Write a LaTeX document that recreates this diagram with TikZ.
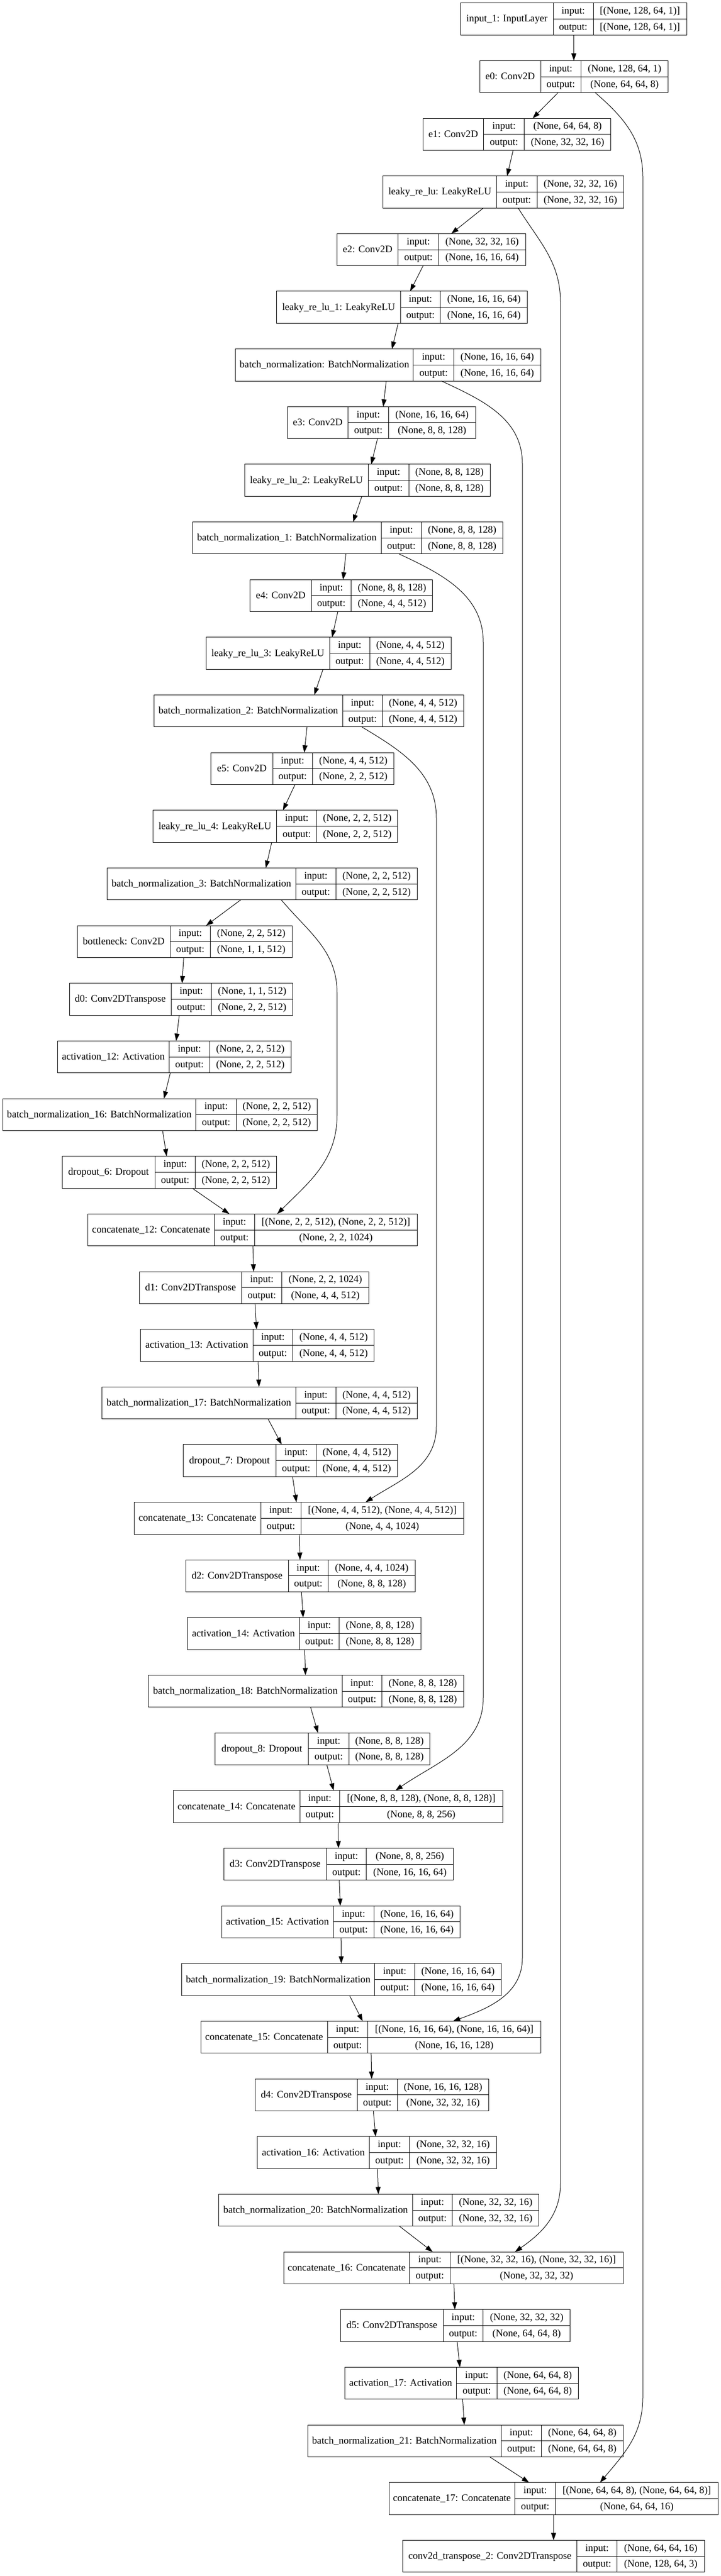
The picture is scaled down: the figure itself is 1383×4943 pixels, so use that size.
\documentclass[tikz,border=0pt]{standalone}
\usepackage{fontspec}
\setmainfont{Liberation Serif}
\usetikzlibrary{arrows.meta}
\tikzset{
  box/.style={draw=black, line width=1pt, inner sep=0pt, outer sep=0pt, rectangle},
  cellline/.style={draw=black, line width=1pt},
  txt/.style={inner sep=0pt, text height=15pt, text depth=4pt, font=\fontsize{19.2}{23}\selectfont},
  arr/.style={line width=1pt, -{Triangle[length=14pt,width=9.5pt]}},
}
% #1 name, #2 left, #3 divider 1, #4 divider 2, #5 right, #6 row, #7 label, #8 input, #9 output
\newcommand\kn[9]{%
  \pgfmathsetmacro\lyT{-(5.7+110.65*#6)}%
  \pgfmathsetmacro\lyB{\lyT-61.4}%
  \pgfmathsetmacro\lyM{\lyT-30.7}%
  \pgfmathsetmacro\lyW{#5-#2}%
  \node[box, minimum width=\lyW pt, minimum height=61.4pt] (#1) at ({(#2+#5)/2},\lyM) {};
  \draw[cellline] (#3,\lyT) -- (#3,\lyB) (#4,\lyT) -- (#4,\lyB) (#3,\lyM) -- (#5,\lyM);
  \node[txt] at ({(#2+#3)/2},\lyM) {#7};
  \node[txt] at ({(#3+#4)/2},\lyM+15.35) {input:};
  \node[txt] at ({(#3+#4)/2},\lyM-15.35) {output:};
  \node[txt] at ({(#4+#5)/2},\lyM+15.35) {#8};
  \node[txt] at ({(#4+#5)/2},\lyM-15.35) {#9};
}
\begin{document}
\begin{tikzpicture}[x=1pt,y=1pt]
\useasboundingbox (0,0) rectangle (1383,-4943);
\kn{n0}{883.8}{1061}{1138}{1317}{0}{input\_1: InputLayer}{[(None, 128, 64, 1)]}{[(None, 128, 64, 1)]}
\kn{n1}{920}{1037}{1114.3}{1281.7}{1}{e0: Conv2D}{(None, 128, 64, 1)}{(None, 64, 64, 8)}
\kn{n2}{811}{927.8}{1005.7}{1171.7}{2}{e1: Conv2D}{(None, 64, 64, 8)}{(None, 32, 32, 16)}
\kn{n3}{734.8}{952.6}{1030}{1196.5}{3}{leaky\_re\_lu: LeakyReLU}{(None, 32, 32, 16)}{(None, 32, 32, 16)}
\kn{n4}{646.5}{763.8}{841.4}{1008}{4}{e2: Conv2D}{(None, 32, 32, 16)}{(None, 16, 16, 64)}
\kn{n5}{530.9}{768.2}{844.9}{1011.6}{5}{leaky\_re\_lu\_1: LeakyReLU}{(None, 16, 16, 64)}{(None, 16, 16, 64)}
\kn{n6}{451.6}{792.9}{870.5}{1037.2}{6}{batch\_normalization: BatchNormalization}{(None, 16, 16, 64)}{(None, 16, 16, 64)}
\kn{n7}{551.2}{667.6}{745.3}{912}{7}{e3: Conv2D}{(None, 16, 16, 64)}{(None, 8, 8, 128)}
\kn{n8}{469.2}{706.4}{784}{940.2}{8}{leaky\_re\_lu\_2: LeakyReLU}{(None, 8, 8, 128)}{(None, 8, 8, 128)}
\kn{n9}{369.5}{731.1}{808.7}{964}{9}{batch\_normalization\_1: BatchNormalization}{(None, 8, 8, 128)}{(None, 8, 8, 128)}
\kn{n10}{479.8}{597.1}{673.8}{829.9}{10}{e4: Conv2D}{(None, 8, 8, 128)}{(None, 4, 4, 512)}
\kn{n11}{395.1}{632.4}{709.1}{865.2}{11}{leaky\_re\_lu\_3: LeakyReLU}{(None, 4, 4, 512)}{(None, 4, 4, 512)}
\kn{n12}{295.5}{657.1}{733.8}{889}{12}{batch\_normalization\_2: BatchNormalization}{(None, 4, 4, 512)}{(None, 4, 4, 512)}
\kn{n13}{404.8}{523}{599.7}{755.8}{13}{e5: Conv2D}{(None, 4, 4, 512)}{(None, 2, 2, 512)}
\kn{n14}{293.7}{530.9}{607.7}{762.9}{14}{leaky\_re\_lu\_4: LeakyReLU}{(None, 2, 2, 512)}{(None, 2, 2, 512)}
\kn{n15}{205.5}{567.1}{644.7}{800}{15}{batch\_normalization\_3: BatchNormalization}{(None, 2, 2, 512)}{(None, 2, 2, 512)}
\kn{n16}{148.2}{326.3}{403.9}{560}{16}{bottleneck: Conv2D}{(None, 2, 2, 512)}{(None, 1, 1, 512)}
\kn{n17}{133.2}{328.1}{405.7}{561.8}{17}{d0: Conv2DTranspose}{(None, 1, 1, 512)}{(None, 2, 2, 512)}
\kn{n18}{110.2}{324.6}{402.2}{558.3}{18}{activation\_12: Activation}{(None, 2, 2, 512)}{(None, 2, 2, 512)}
\kn{n19}{5.3}{375.7}{453.3}{608.6}{19}{batch\_normalization\_16: BatchNormalization}{(None, 2, 2, 512)}{(None, 2, 2, 512)}
\kn{n20}{119.1}{297.2}{374.8}{530.1}{20}{dropout\_6: Dropout}{(None, 2, 2, 512)}{(None, 2, 2, 512)}
\kn{n21}{168.5}{411}{488.6}{800}{21}{concatenate\_12: Concatenate}{[(None, 2, 2, 512), (None, 2, 2, 512)]}{(None, 2, 2, 1024)}
\kn{n22}{267.2}{463.9}{540.7}{707.4}{22}{d1: Conv2DTranspose}{(None, 2, 2, 1024)}{(None, 4, 4, 512)}
\kn{n23}{269.9}{485.1}{561.8}{717.9}{23}{activation\_13: Activation}{(None, 4, 4, 512)}{(None, 4, 4, 512)}
\kn{n24}{195.8}{567.1}{644.7}{800}{24}{batch\_normalization\_17: BatchNormalization}{(None, 4, 4, 512)}{(None, 4, 4, 512)}
\kn{n25}{351}{529.2}{606.8}{762}{25}{dropout\_7: Dropout}{(None, 4, 4, 512)}{(None, 4, 4, 512)}
\kn{n26}{257.5}{500.1}{577.7}{889}{26}{concatenate\_13: Concatenate}{[(None, 4, 4, 512), (None, 4, 4, 512)]}{(None, 4, 4, 1024)}
\kn{n27}{356.3}{553}{629.7}{796.4}{27}{d2: Conv2DTranspose}{(None, 4, 4, 1024)}{(None, 8, 8, 128)}
\kn{n28}{359.8}{574.2}{650.9}{807}{28}{activation\_14: Activation}{(None, 8, 8, 128)}{(None, 8, 8, 128)}
\kn{n29}{284.9}{656.2}{732.9}{889}{29}{batch\_normalization\_18: BatchNormalization}{(None, 8, 8, 128)}{(None, 8, 8, 128)}
\kn{n30}{412.8}{591.8}{669.4}{824.7}{30}{dropout\_8: Dropout}{(None, 8, 8, 128)}{(None, 8, 8, 128)}
\kn{n31}{332.5}{575}{651.8}{964}{31}{concatenate\_14: Concatenate}{[(None, 8, 8, 128), (None, 8, 8, 128)]}{(None, 8, 8, 256)}
\kn{n32}{429.5}{626.2}{702.9}{869.6}{32}{d3: Conv2DTranspose}{(None, 8, 8, 256)}{(None, 16, 16, 64)}
\kn{n33}{425.1}{639.4}{717}{882.8}{33}{activation\_15: Activation}{(None, 16, 16, 64)}{(None, 16, 16, 64)}
\kn{n34}{348.4}{718.8}{795.5}{961.3}{34}{batch\_normalization\_19: BatchNormalization}{(None, 16, 16, 64)}{(None, 16, 16, 64)}
\kn{n35}{385.4}{628}{705.6}{1037.2}{35}{concatenate\_15: Concatenate}{[(None, 16, 16, 64), (None, 16, 16, 64)]}{(None, 16, 16, 128)}
\kn{n36}{489.5}{685.3}{762}{937.5}{36}{d4: Conv2DTranspose}{(None, 16, 16, 128)}{(None, 32, 32, 16)}
\kn{n37}{493.9}{708.2}{785.8}{952.5}{37}{activation\_16: Activation}{(None, 32, 32, 16)}{(None, 32, 32, 16)}
\kn{n38}{419.8}{791.1}{867.9}{1033.6}{38}{batch\_normalization\_20: BatchNormalization}{(None, 32, 32, 16)}{(None, 32, 32, 16)}
\kn{n39}{544.2}{785.8}{863.4}{1195}{39}{concatenate\_16: Concatenate}{[(None, 32, 32, 16), (None, 32, 32, 16)]}{(None, 32, 32, 32)}
\kn{n40}{653.5}{850.2}{926.9}{1093.6}{40}{d5: Conv2DTranspose}{(None, 32, 32, 32)}{(None, 64, 64, 8)}
\kn{n41}{661.4}{875.8}{953.4}{1109.5}{41}{activation\_17: Activation}{(None, 64, 64, 8)}{(None, 64, 64, 8)}
\kn{n42}{590}{961.3}{1038.9}{1195}{42}{batch\_normalization\_21: BatchNormalization}{(None, 64, 64, 8)}{(None, 64, 64, 8)}
\kn{n43}{746.1}{987.8}{1065.4}{1377.6}{43}{concatenate\_17: Concatenate}{[(None, 64, 64, 8), (None, 64, 64, 8)]}{(None, 64, 64, 16)}
\kn{n44}{772.6}{1106.8}{1183.6}{1351.2}{44}{conv2d\_transpose\_2: Conv2DTranspose}{(None, 64, 64, 16)}{(None, 128, 64, 3)}
% main chain
\foreach \i in {0,...,43}{%
  \pgfmathtruncatemacro\j{\i+1}%
  \draw[arr] (n\i) -- (n\j);
}
% skip connections
\draw[arr] ([xshift=40.85pt]n1.south) to[out=-41,in=90] (1233,-340) -- (1233,-4600) to[out=-90,in=50] ([xshift=89.05pt]n43.north);
\draw[arr] ([xshift=28.2pt]n3.south) to[out=-58,in=90] (1075,-580) -- (1075,-4190) to[out=-90,in=35] ([xshift=118.2pt]n39.north);
\draw[arr] ([xshift=102.2pt]n6.south) to[out=-25,in=90] (1002,-890) -- (1002,-3757) to[out=-90,in=20] ([xshift=157.4pt]n35.north);
\draw[arr] ([xshift=98.75pt]n9.south) to[out=-25,in=90] (927,-1233) -- (927,-3257) to[out=-90,in=35] ([xshift=110.25pt]n31.north);
\draw[arr] ([xshift=101.75pt]n12.south) to[out=-31,in=90] (837,-1570) -- (837,-2737) to[out=-90,in=33] ([xshift=127.95pt]n26.north);
\draw[arr] ([xshift=36.95pt]n15.south) to[out=-50,in=90] (646.5,-1905) -- (646.5,-2140) to[out=-90,in=45] ([xshift=47.55pt]n21.north);
\end{tikzpicture}
\end{document}
